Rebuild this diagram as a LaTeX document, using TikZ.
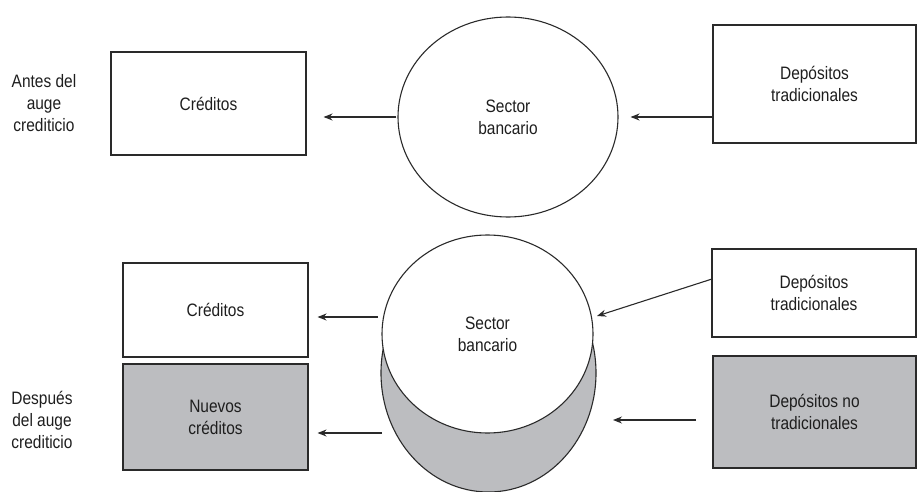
\documentclass[tikz,border=0pt]{standalone}
\usepackage{fontspec}
\setmainfont{Liberation Sans}[FakeStretch=0.86]
\usetikzlibrary{arrows.meta,shapes.geometric}
\definecolor{boxgray}{HTML}{BCBDC0}
\definecolor{inkgray}{HTML}{2A2A2A}
\definecolor{textgray}{HTML}{1E1E1E}

\tikzset{
  txt/.style={font=\fontsize{18}{22}\selectfont, text=textgray, align=center},
  block/.style={txt, draw=inkgray, line width=1.1pt, rectangle, inner sep=0pt},
  bank/.style={txt, draw=inkgray, line width=1.1pt, ellipse, inner sep=0pt},
  arr/.style={draw=inkgray, line width=1.1pt, -{Stealth[length=9pt,width=7pt]}},
  side/.style={txt}
}

\begin{document}
\begin{tikzpicture}[x=1pt,y=-1pt]
  \useasboundingbox (0,0) rectangle (920,492);

  % Before the credit boom
  \node[side] (lab1) at (44,103) {Antes del\\auge\\crediticio};
  \node[block, minimum width=195pt, minimum height=103pt] (cred1) at (208.5,103.5) {Créditos};
  \node[bank, minimum width=220pt, minimum height=200pt] (sb1) at (508,117) {Sector\\bancario};
  \node[block, minimum width=203pt, minimum height=118pt] (dep1) at (814.5,84) {Depósitos\\tradicionales};

  \draw[arr, shorten <=1pt, shorten >=17pt] (sb1.west) -- (cred1.east |- sb1.west);
  \draw[arr, shorten >=12pt] (dep1.west |- sb1.east) -- (sb1.east);

  % After the credit boom
  \node[side] (lab2) at (42,420) {Después\\del auge\\crediticio};
  \node[block, minimum width=185pt, minimum height=94pt] (cred2) at (215.5,310) {Créditos};
  \node[block, fill=boxgray, minimum width=185pt, minimum height=106pt] (nuevo) at (215.5,417) {Nuevos\\créditos};

  \node[bank, fill=boxgray, minimum width=215pt, minimum height=238pt] (sbg) at (488.5,373) {};
  \node[bank, fill=white, minimum width=211pt, minimum height=198pt] (sb2) at (487.5,334) {Sector\\bancario};

  \node[block, minimum width=204pt, minimum height=88pt] (dep2) at (814,293) {Depósitos\\tradicionales};
  \node[block, fill=boxgray, minimum width=203pt, minimum height=112pt] (depno) at (814.5,412) {Depósitos no\\tradicionales};

  % free ends of the arrows
  \coordinate (a1) at (378,317);
  \coordinate (a2) at (382,433);
  \coordinate (a3) at (712,279);
  \coordinate (a4) at (597,316);
  \coordinate (a5) at (696,420);
  \coordinate (a6) at (613,420);

  \draw[arr, shorten >=9pt] (a1) -- (cred2.east |- a1);
  \draw[arr, shorten >=9pt] (a2) -- (nuevo.east |- a2);
  \draw[arr] (a3) -- (a4);
  \draw[arr] (a5) -- (a6);
\end{tikzpicture}
\end{document}
